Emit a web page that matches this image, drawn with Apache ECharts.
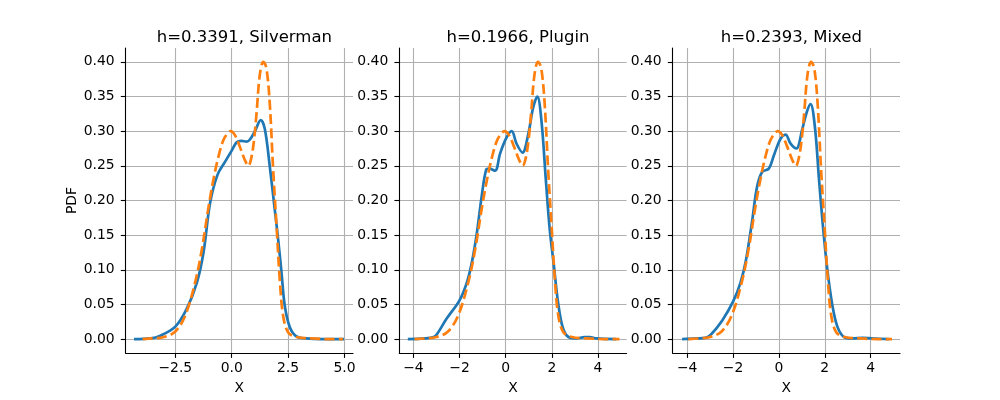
<!DOCTYPE html>
<html>
<head>
<meta charset="utf-8">
<script src="https://cdn.jsdelivr.net/npm/echarts@6/dist/echarts.min.js"></script>
<style>html,body{margin:0;padding:0;background:#fff}#c{width:1000px;height:400px}</style>
</head>
<body>
<div id="c"></div>
<script>
// ---- data ----
const titles = ['h=0.3391, Silverman', 'h=0.1966, Plugin', 'h=0.2393, Mixed'];
const yTicks = [0, 0.05, 0.10, 0.15, 0.20, 0.25, 0.30, 0.35, 0.40];
const xTicks1 = [-2.5, 0, 2.5, 5.0];
const xTicks23 = [-4, -2, 0, 2, 4];

const trueX = [-3.95, -3.5, -3.0, -2.5, -2.06, -1.62, -1.32, -1.03, -0.81, -0.59, -0.37, -0.15, -0.05, 0.15, 0.37, 0.59, 0.74, 0.88, 1.0, 1.10, 1.25, 1.40, 1.54, 1.69, 1.84, 1.99, 2.13, 2.28, 2.5, 2.87, 3.6, 4.3, 4.93];
const trueY = [0, 0.001, 0.003, 0.011, 0.034, 0.082, 0.13, 0.19, 0.23, 0.263, 0.287, 0.298, 0.30, 0.294, 0.277, 0.258, 0.25, 0.263, 0.29, 0.325, 0.382, 0.40, 0.391, 0.339, 0.244, 0.163, 0.087, 0.034, 0.010, 0.003, 0.001, 0, 0];

const silvermanX = [-4.33, -3.6, -3.16, -2.5, -1.99, -1.54, -1.25, -0.96, -0.63, -0.29, 0.0, 0.22, 0.44, 0.66, 0.81, 1.03, 1.29, 1.47, 1.69, 1.91, 2.06, 2.21, 2.35, 2.57, 2.87, 3.31, 4.0, 4.98];
const silvermanY = [0, 0.001, 0.005, 0.018, 0.044, 0.082, 0.125, 0.196, 0.237, 0.256, 0.272, 0.284, 0.286, 0.285, 0.288, 0.30, 0.316, 0.303, 0.249, 0.187, 0.144, 0.096, 0.049, 0.018, 0.004, 0.001, 0, 0];

const pluginX = [-4.24, -3.5, -3.12, -2.98, -2.55, -2.0, -1.68, -1.47, -1.25, -1.04, -0.85, -0.71, -0.46, -0.24, 0.04, 0.26, 0.47, 0.73, 0.98, 1.19, 1.37, 1.55, 1.74, 1.91, 2.09, 2.27, 2.49, 2.78, 3.06, 3.42, 3.64, 3.93, 4.79];
const pluginY = [0, 0.001, 0.003, 0.007, 0.03, 0.056, 0.082, 0.11, 0.153, 0.206, 0.244, 0.246, 0.243, 0.268, 0.291, 0.30, 0.282, 0.269, 0.296, 0.334, 0.35, 0.315, 0.23, 0.158, 0.106, 0.053, 0.015, 0.002, 0.001, 0.003, 0.003, 0.001, 0];

const mixedX = [-4.22, -3.6, -3.2, -2.98, -2.47, -2.0, -1.67, -1.43, -1.16, -0.95, -0.73, -0.44, -0.22, 0.07, 0.29, 0.51, 0.76, 1.02, 1.21, 1.38, 1.57, 1.75, 1.92, 2.11, 2.33, 2.55, 2.84, 3.2, 3.64, 4.1, 4.8];
const mixedY = [0, 0.001, 0.002, 0.006, 0.027, 0.054, 0.082, 0.115, 0.172, 0.22, 0.241, 0.246, 0.265, 0.289, 0.295, 0.282, 0.275, 0.303, 0.327, 0.339, 0.306, 0.23, 0.163, 0.101, 0.049, 0.018, 0.003, 0.001, 0.002, 0.001, 0];

const estX = [silvermanX, pluginX, mixedX];
const estY = [silvermanY, pluginY, mixedY];
const xRanges = [[-4.70, 5.38], [-4.61, 5.24], [-4.63, 5.28]];
const xTickSets = [xTicks1, xTicks23, xTicks23];

// ---- chart ----
const FONT = 'DejaVu Sans';
const lefts = [125.7, 399.3, 672.7];
const W = 227.3;
const zip = (a, b) => a.map((v, i) => [v, b[i]]);
const fmtX = (dec) => (v) => {
  const s = dec ? Math.abs(v).toFixed(1) : String(Math.abs(Math.round(v)));
  return (v < -1e-9 ? '\u2212' : '') + s;
};

const grid = [], xAxis = [], yAxis = [], series = [], title = [];
for (let i = 0; i < 3; i++) {
  grid.push({ left: lefts[i], top: 48, width: W, height: 308 });
  title.push({
    text: titles[i], left: lefts[i] + W / 2, top: 24, textAlign: 'center',
    textStyle: { fontFamily: FONT, fontSize: 16.5, fontWeight: 'normal', color: '#000' }
  });
  xAxis.push({
    type: 'value', gridIndex: i, min: xRanges[i][0], max: xRanges[i][1],
    name: 'X', nameLocation: 'middle', nameGap: 28,
    nameTextStyle: { fontFamily: FONT, fontSize: 13.9, color: '#000' },
    axisLine: { onZero: false, lineStyle: { color: '#000', width: 1.1 } },
    axisTick: { show: true, length: 4.9, inside: false, customValues: xTickSets[i], lineStyle: { color: '#000', width: 1.1 } },
    axisLabel: { customValues: xTickSets[i], margin: 8, fontFamily: FONT, fontSize: 13.9, color: '#000', formatter: fmtX(i === 0) },
    splitLine: { show: true, lineStyle: { color: '#b0b0b0', width: 1.1 } }
  });
  yAxis.push({
    type: 'value', gridIndex: i, min: -0.02, max: 0.42,
    name: i === 0 ? 'PDF' : '', nameLocation: 'middle', nameGap: 45, nameRotate: 90,
    nameTextStyle: { fontFamily: FONT, fontSize: 13.9, color: '#000' },
    axisLine: { show: true, onZero: false, lineStyle: { color: '#000', width: 1.1 } },
    axisTick: { show: true, length: 4.9, inside: false, customValues: yTicks, lineStyle: { color: '#000', width: 1.1 } },
    axisLabel: { customValues: yTicks, margin: 11, fontFamily: FONT, fontSize: 13.9, color: '#000', formatter: (v) => v.toFixed(2) },
    splitLine: { show: true, lineStyle: { color: '#b0b0b0', width: 1.1 } }
  });
  series.push({
    type: 'line', xAxisIndex: i, yAxisIndex: i, data: zip(estX[i], estY[i]),
    showSymbol: false, smooth: 0.35, lineStyle: { color: '#1f77b4', width: 2.7 }, z: 3, silent: true
  });
  series.push({
    type: 'line', xAxisIndex: i, yAxisIndex: i, data: zip(trueX, trueY),
    showSymbol: false, smooth: 0.35, lineStyle: { color: '#ff7f0e', width: 2.7, type: [10, 4.3] }, z: 4, silent: true
  });
}

const chart = echarts.init(document.getElementById('c'), null, { renderer: 'canvas' });
chart.setOption({ animation: false, backgroundColor: '#fff', title, grid, xAxis, yAxis, series });
</script>
</body>
</html>
